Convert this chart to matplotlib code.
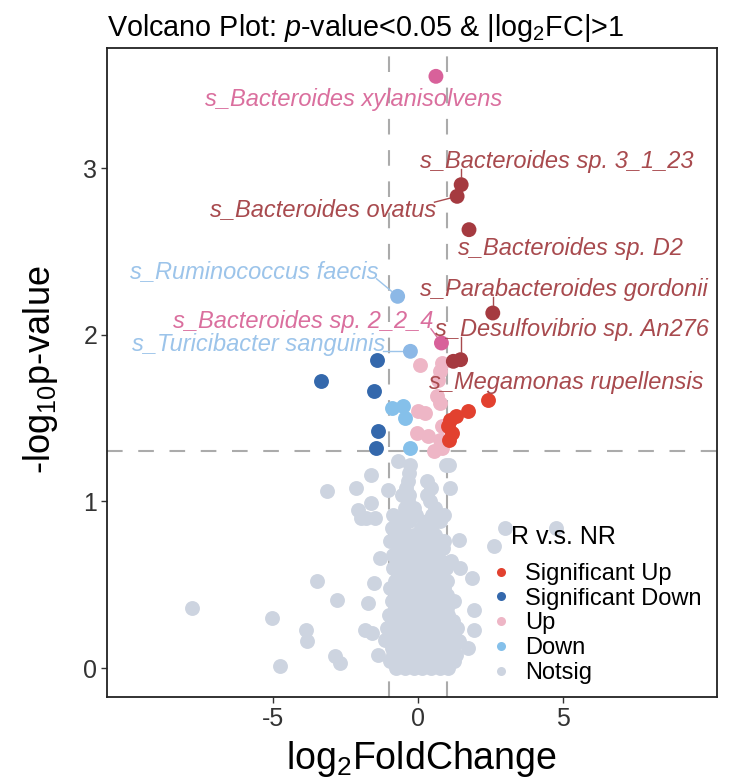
import matplotlib
matplotlib.use("Agg")
import matplotlib.pyplot as plt
from matplotlib.lines import Line2D
import numpy as np

plt.rcParams['font.family'] = ['Liberation Sans', 'DejaVu Sans']
plt.rcParams['mathtext.fontset'] = 'custom'
plt.rcParams['mathtext.rm'] = 'Liberation Sans'
plt.rcParams['mathtext.it'] = 'Liberation Sans:italic'
plt.rcParams['mathtext.bf'] = 'Liberation Sans:bold'
plt.rcParams['axes.unicode_minus'] = False

# ---------------- data ----------------
categories = ["Significant Up", "Significant Down", "Up", "Down", "Notsig"]

sigup_x = [2.42, 1.73, 1.31, 1.10, 1.05, 1.16, 1.08]
sigup_y = [1.61, 1.54, 1.51, 1.49, 1.45, 1.41, 1.37]

sigdown_x = [-1.41, -1.50, -1.38, -1.46, -3.35]
sigdown_y = [1.85, 1.66, 1.42, 1.32, 1.72]

up_x = [0.07, 0.82, 0.76, 0.70, 0.64, 0.76, 0.01, 0.24, -0.04, 0.36, 0.82, 0.76, 0.82, 0.55]
up_y = [1.82, 1.83, 1.78, 1.73, 1.63, 1.59, 1.54, 1.53, 1.41, 1.39, 1.45, 1.37, 1.32, 1.30]

down_x = [-0.91, -0.51, -0.45, -0.28]
down_y = [1.56, 1.57, 1.50, 1.32]

# not significant: outliers
notsig_out_x = [-7.8, -5.03, -4.76, -3.85, -3.81, -3.47, -3.14, -2.80, -2.86, -2.69, -2.12,
                -1.61, -1.61, -2.05, -1.95, -1.78, -1.48, -1.04, -1.31, -1.53, -1.72, -1.82,
                -1.58, -1.36, -1.14, 1.86, 1.93, 1.93, 1.73, 2.61, 3.0, 4.77, 1.40, 1.45]
notsig_out_y = [0.36, 0.30, 0.01, 0.23, 0.16, 0.52, 1.06, 0.41, 0.07, 0.03, 1.08,
                1.16, 0.99, 0.95, 0.90, 0.90, 0.90, 1.07, 0.66, 0.51, 0.39, 0.23,
                0.21, 0.08, 0.17, 0.54, 0.35, 0.23, 0.12, 0.73, 0.84, 0.84, 0.77, 0.60]

# not significant: dense core, row by row
core_x = [
    -0.75, -0.45, -0.15, 0.15, 0.45, 0.75, 1.05,
    -0.95, -0.6, -0.3, 0.0, 0.3, 0.6, 0.9, 1.25,
    -0.85, -0.5, -0.2, 0.1, 0.4, 0.7, 1.0, 1.3,
    -0.9, -0.6, -0.3, 0.0, 0.3, 0.6, 0.9, 1.2,
    -1.0, -0.7, -0.4, -0.1, 0.2, 0.5, 0.8, 1.1, 1.4,
    -0.85, -0.55, -0.25, 0.05, 0.35, 0.65, 0.95, 1.25,
    -1.05, -0.7, -0.4, -0.1, 0.2, 0.5, 0.8, 1.1, 1.35,
    -0.9, -0.55, -0.25, 0.05, 0.35, 0.65, 0.95, 1.2,
    -1.0, -0.7, -0.4, -0.1, 0.2, 0.5, 0.8, 1.05,
    -0.8, -0.5, -0.2, 0.1, 0.4, 0.7, 1.0,
    -0.9, -0.6, -0.3, 0.0, 0.3, 0.6, 0.9, 1.25,
    -0.75, -0.45, -0.15, 0.15, 0.45, 0.75, 1.0,
    -0.95, -0.6, -0.3, 0.0, 0.3, 0.6, 0.9,
    -0.8, -0.5, -0.2, 0.1, 0.4, 0.7, 1.0,
    -0.7, -0.4, -0.1, 0.2, 0.5, 0.8,
    -0.85, -0.55, -0.25, 0.05, 0.35, 0.65, 0.95,
    -0.7, -0.4, -0.1, 0.2, 0.5, 0.8, 1.15,
    -0.85, -0.55, -0.25, 0.05, 0.35, 0.65,
    -0.7, -0.4, -0.1, 0.2, 0.5, 0.85,
    -0.95, -0.6, -0.3, 0.0, 0.3, 0.6, 0.9,
    -0.75, -0.45, -0.15, 0.3, 0.6,
    -0.9, -0.5, 0.1, 0.45,
    -0.7, -0.3, 0.3, 0.75,
    -0.85, -0.45, -0.05, 0.5, 0.9,
    -0.45, -0.15, 0.6,
    -0.35, 0.4,
    -0.55, -0.3, 0.3,
    -0.4, 0.45, 1.12,
    -0.35, 0.3,
    -0.3,
    -0.28, 0.97, 1.08,
    -0.68,
]
core_y = [
    0.00, 0.00, 0.00, 0.00, 0.00, 0.00, 0.00,
    0.04, 0.04, 0.04, 0.04, 0.04, 0.04, 0.04, 0.04,
    0.08, 0.08, 0.08, 0.08, 0.08, 0.08, 0.08, 0.08,
    0.12, 0.12, 0.12, 0.12, 0.12, 0.12, 0.12, 0.12,
    0.16, 0.16, 0.16, 0.16, 0.16, 0.16, 0.16, 0.16, 0.16,
    0.20, 0.20, 0.20, 0.20, 0.20, 0.20, 0.20, 0.20,
    0.24, 0.24, 0.24, 0.24, 0.24, 0.24, 0.24, 0.24, 0.24,
    0.28, 0.28, 0.28, 0.28, 0.28, 0.28, 0.28, 0.28,
    0.32, 0.32, 0.32, 0.32, 0.32, 0.32, 0.32, 0.32,
    0.36, 0.36, 0.36, 0.36, 0.36, 0.36, 0.36,
    0.40, 0.40, 0.40, 0.40, 0.40, 0.40, 0.40, 0.40,
    0.44, 0.44, 0.44, 0.44, 0.44, 0.44, 0.44,
    0.48, 0.48, 0.48, 0.48, 0.48, 0.48, 0.48,
    0.52, 0.52, 0.52, 0.52, 0.52, 0.52, 0.52,
    0.56, 0.56, 0.56, 0.56, 0.56, 0.56,
    0.60, 0.60, 0.60, 0.60, 0.60, 0.60, 0.60,
    0.64, 0.64, 0.64, 0.64, 0.64, 0.64, 0.64,
    0.68, 0.68, 0.68, 0.68, 0.68, 0.68,
    0.72, 0.72, 0.72, 0.72, 0.72, 0.72,
    0.76, 0.76, 0.76, 0.76, 0.76, 0.76, 0.76,
    0.80, 0.80, 0.80, 0.80, 0.80,
    0.84, 0.84, 0.84, 0.84,
    0.88, 0.88, 0.88, 0.88,
    0.92, 0.92, 0.92, 0.92, 0.92,
    0.96, 0.96, 0.96,
    1.00, 1.00,
    1.04, 1.04, 1.04,
    1.08, 1.08, 1.08,
    1.12, 1.12,
    1.17,
    1.22, 1.22, 1.22,
    1.24,
]

# labelled species
label_names = ["s_Bacteroides xylanisolvens", "s_Bacteroides sp. 3_1_23", "s_Bacteroides ovatus",
               "s_Bacteroides sp. D2", "s_Ruminococcus faecis", "s_Parabacteroides gordonii",
               "s_Bacteroides sp. 2_2_4", "s_Desulfovibrio sp. An276", "s_Turicibacter sanguinis",
               "s_Megamonas rupellensis"]
label_x = [0.62, 1.49, 1.35, 1.76, -0.70, 2.58, 0.81, 1.47, -0.26, 1.22]
label_y = [3.55, 2.90, 2.83, 2.63, 2.23, 2.13, 1.95, 1.85, 1.90, 1.84]
label_group = ["Up", "Significant Up", "Significant Up", "Significant Up", "Down",
               "Significant Up", "Up", "Significant Up", "Down", "Significant Up"]

# ---------------- layout / style ----------------
label_text_pos = [(-2.22, 3.41), (4.79, 3.04), (-3.26, 2.75), (5.26, 2.52), (-5.64, 2.38),
                  (5.03, 2.27), (-3.97, 2.08), (5.30, 2.03), (-5.50, 1.94), (5.10, 1.71)]

colors = {"Significant Up": "#E2412F", "Significant Down": "#3468AC",
          "Up": "#EEB6C6", "Down": "#85C0EA", "Notsig": "#CDD4E0"}
label_point_colors = {"Significant Up": "#A53A40", "Up": "#D8619A", "Down": "#8CB8E6"}
label_text_colors = {"Significant Up": "#A84A4E", "Up": "#DA6F9E", "Down": "#9CC4EA"}

S = 115
W, H = 730, 783

fig = plt.figure(figsize=(7.3, 7.83), dpi=100)
ax = fig.add_axes([107/W, 1 - 697/H, 610/W, 649/H])
ax.set_xlim(-10.72, 10.31)
ax.set_ylim(-0.174, 3.72)

dash = (0, (7.5, 7.5))
for xv in (-1, 1):
    ax.axvline(xv, color="#ABABAB", lw=1.5, ls=dash, zorder=1)
ax.axhline(-np.log10(0.05), color="#ABABAB", lw=1.5, ls=dash, zorder=1)

ax.scatter(notsig_out_x, notsig_out_y, s=S, c=colors["Notsig"], linewidths=0, zorder=2)
ax.scatter(core_x, core_y, s=S, c=colors["Notsig"], linewidths=0, zorder=2)
ax.scatter(up_x, up_y, s=S, c=colors["Up"], linewidths=0, zorder=3)
ax.scatter(down_x, down_y, s=S, c=colors["Down"], linewidths=0, zorder=3)
ax.scatter(sigup_x, sigup_y, s=S, c=colors["Significant Up"], linewidths=0, zorder=4)
ax.scatter(sigdown_x, sigdown_y, s=S, c=colors["Significant Down"], linewidths=0, zorder=4)
ax.scatter(label_x, label_y, s=S, c=[label_point_colors[g] for g in label_group],
           linewidths=0, zorder=5)

texts = []
for name, g, (tx, ty) in zip(label_names, label_group, label_text_pos):
    t = ax.text(tx, ty, name, ha="center", va="center", fontsize=17, style="italic",
                color=label_text_colors[g], zorder=6)
    texts.append(t)

ax.set_xticks([-5, 0, 5])
ax.set_yticks([0, 1, 2, 3])
ax.tick_params(length=4, width=1, color="#333333", labelsize=18, labelcolor="#333333", pad=3)
for sp in ax.spines.values():
    sp.set_linewidth(1.3)
    sp.set_color("#222222")

ax.set_xlabel("log$_2$FoldChange", fontsize=27, labelpad=6)
ax.xaxis.label.set_x(0.516)
ax.set_ylabel("-log$_{10}$p-value", fontsize=26, labelpad=17)
ax.yaxis.label.set_y(0.504)
ax.set_title("Volcano Plot: $\\mathit{p}$-value<0.05 & |log$_2$FC|>1",
             loc="left", fontsize=20.7, pad=9)

handles = [Line2D([0], [0], marker="o", ls="", markersize=6.5, markeredgewidth=0,
                  markerfacecolor=colors[c]) for c in categories]
leg = ax.legend(handles, categories, loc="upper left",
                bbox_to_anchor=(480/W, 1 - 551/H), bbox_transform=fig.transFigure,
                frameon=False, fontsize=17, labelspacing=0.12,
                handletextpad=0.6, handlelength=0.8, borderpad=0)
fig.text(511/W, 1 - 537/H, "R v.s. NR", fontsize=18, ha="left", va="center")

# ggrepel-like segments: from nearest point of the label box to the data point
fig.canvas.draw()
renderer = fig.canvas.get_renderer()
inv = ax.transData.inverted()
r_pt = np.sqrt(S) / 2 * fig.dpi / 72.0
for t, px, py, g in zip(texts, label_x, label_y, label_group):
    bb = t.get_window_extent(renderer)
    x0b, x1b, y0b, y1b = bb.x0 + 2, bb.x1 - 2, bb.y0 + 4, bb.y1 - 4
    p = ax.transData.transform((px, py))
    q = np.array([min(max(p[0], x0b), x1b), min(max(p[1], y0b), y1b)])
    v = p - q
    L = np.hypot(*v)
    if L - r_pt < 4 or (p[1] > y1b and abs(v[0]) < 1e-6 and L < 25):
        continue
    end = p - v / L * (r_pt + 0.5)
    (xa, ya), (xb, yb) = inv.transform(q), inv.transform(end)
    ax.plot([xa, xb], [ya, yb], color=label_text_colors[g], lw=1.0, zorder=5.5)

fig.savefig("out.png", dpi=100)
